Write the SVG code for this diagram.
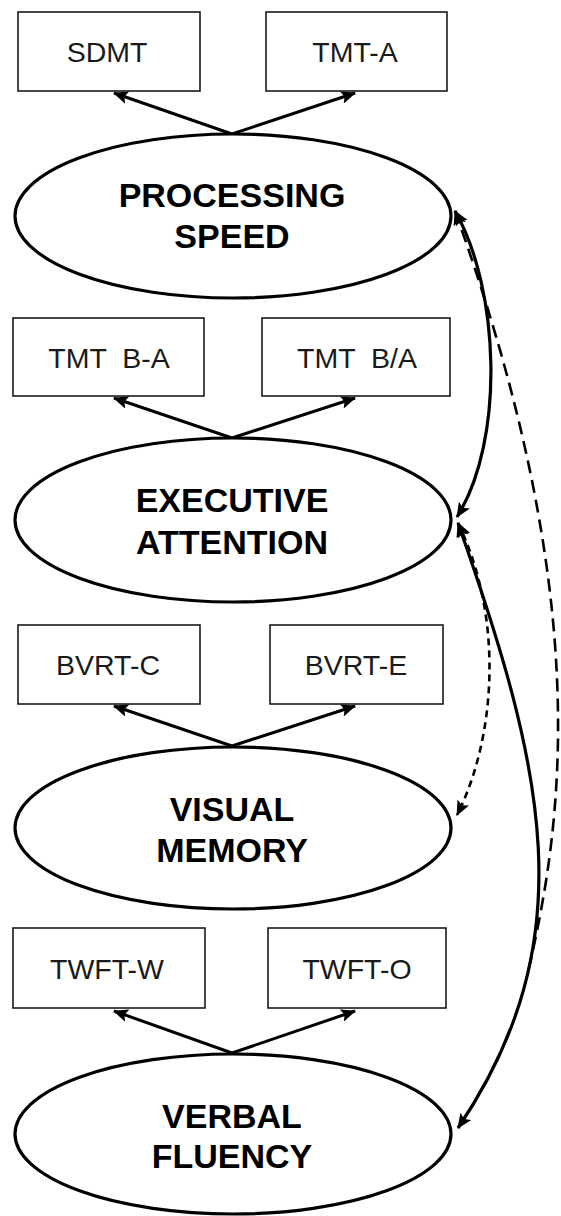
<svg xmlns="http://www.w3.org/2000/svg" width="561" height="1216" viewBox="0 0 561 1216">
<style>
.box{fill:#fff;stroke:#1a1a1a;stroke-width:1.6}
.ell{fill:#fff;stroke:#000;stroke-width:3.2}
.bt{font-family:"Liberation Sans",Arial,sans-serif;font-size:28.5px;fill:#1a1a1a;text-anchor:middle}
.et{font-family:"Liberation Sans",Arial,sans-serif;font-size:34px;font-weight:bold;fill:#000;text-anchor:middle}
.ld{fill:none;stroke:#000;stroke-width:3}
.cs{fill:none;stroke:#000;stroke-width:3.2}
.cd1{fill:none;stroke:#000;stroke-width:2.6;stroke-dasharray:13 7}
.cd2{fill:none;stroke:#000;stroke-width:2.6;stroke-dasharray:7 5}
</style>
<defs>
<marker id="ah" viewBox="0 0 15 13" refX="14" refY="6.5" markerWidth="15" markerHeight="13" markerUnits="userSpaceOnUse" orient="auto-start-reverse">
<path d="M0,0 L15,6.5 L0,13 L3,6.5 z" fill="#000"/>
</marker>
</defs>

<g id="connectors">
<path class="ld" d="M232,134 L114,93" marker-end="url(#ah)"/>
<path class="ld" d="M232,134 L355,93" marker-end="url(#ah)"/>
<path class="ld" d="M232,438 L114,398" marker-end="url(#ah)"/>
<path class="ld" d="M232,438 L355,398" marker-end="url(#ah)"/>
<path class="ld" d="M232,746 L114,706" marker-end="url(#ah)"/>
<path class="ld" d="M232,746 L355,706" marker-end="url(#ah)"/>
<path class="ld" d="M232,1053 L114,1011" marker-end="url(#ah)"/>
<path class="ld" d="M232,1053 L355,1011" marker-end="url(#ah)"/>
<path class="cs" d="M455,211 C500,290 505,440 457,517" marker-start="url(#ah)" marker-end="url(#ah)"/>
<path class="cs" d="M458,523 C545,770 585,940 458,1128" marker-start="url(#ah)" marker-end="url(#ah)"/>
<path class="cd1" d="M455,211 C595,600 563,822 528,972" marker-start="url(#ah)"/>
<path class="cd2" d="M458,523 C505,620 495,740 457,815" marker-start="url(#ah)" marker-end="url(#ah)"/>
</g>

<g id="sdmt"><rect class="box" x="18" y="12" width="182" height="79"/><text class="bt" x="107" y="62">SDMT</text></g>
<g id="tmta"><rect class="box" x="266" y="12" width="181" height="79"/><text class="bt" x="355" y="62">TMT-A</text></g>
<g id="processing-speed"><ellipse class="ell" cx="233" cy="216" rx="218" ry="82"/><text class="et" x="232" y="207">PROCESSING</text><text class="et" x="232" y="248">SPEED</text></g>

<g id="tmtba-minus"><rect class="box" x="13" y="318" width="191" height="78"/><text class="bt" x="109" y="368" style="word-spacing:8px">TMT B-A</text></g>
<g id="tmtba-ratio"><rect class="box" x="262" y="318" width="188" height="78"/><text class="bt" x="357" y="368" style="word-spacing:8px">TMT B/A</text></g>
<g id="executive-attention"><ellipse class="ell" cx="233" cy="520" rx="218" ry="82"/><text class="et" x="232" y="512">EXECUTIVE</text><text class="et" x="232" y="554">ATTENTION</text></g>

<g id="bvrtc"><rect class="box" x="18" y="625" width="182" height="79"/><text class="bt" x="108" y="675">BVRT-C</text></g>
<g id="bvrte"><rect class="box" x="270" y="625" width="173" height="79"/><text class="bt" x="356" y="675">BVRT-E</text></g>
<g id="visual-memory"><ellipse class="ell" cx="233" cy="828" rx="218" ry="81"/><text class="et" x="232" y="821">VISUAL</text><text class="et" x="232" y="862">MEMORY</text></g>

<g id="twftw"><rect class="box" x="13" y="928" width="192" height="80"/><text class="bt" x="107" y="979">TWFT-W</text></g>
<g id="twfto"><rect class="box" x="268" y="928" width="178" height="80"/><text class="bt" x="357" y="979">TWFT-O</text></g>
<g id="verbal-fluency"><ellipse class="ell" cx="233" cy="1134" rx="218" ry="80"/><text class="et" x="232" y="1128">VERBAL</text><text class="et" x="232" y="1168">FLUENCY</text></g>
</svg>
